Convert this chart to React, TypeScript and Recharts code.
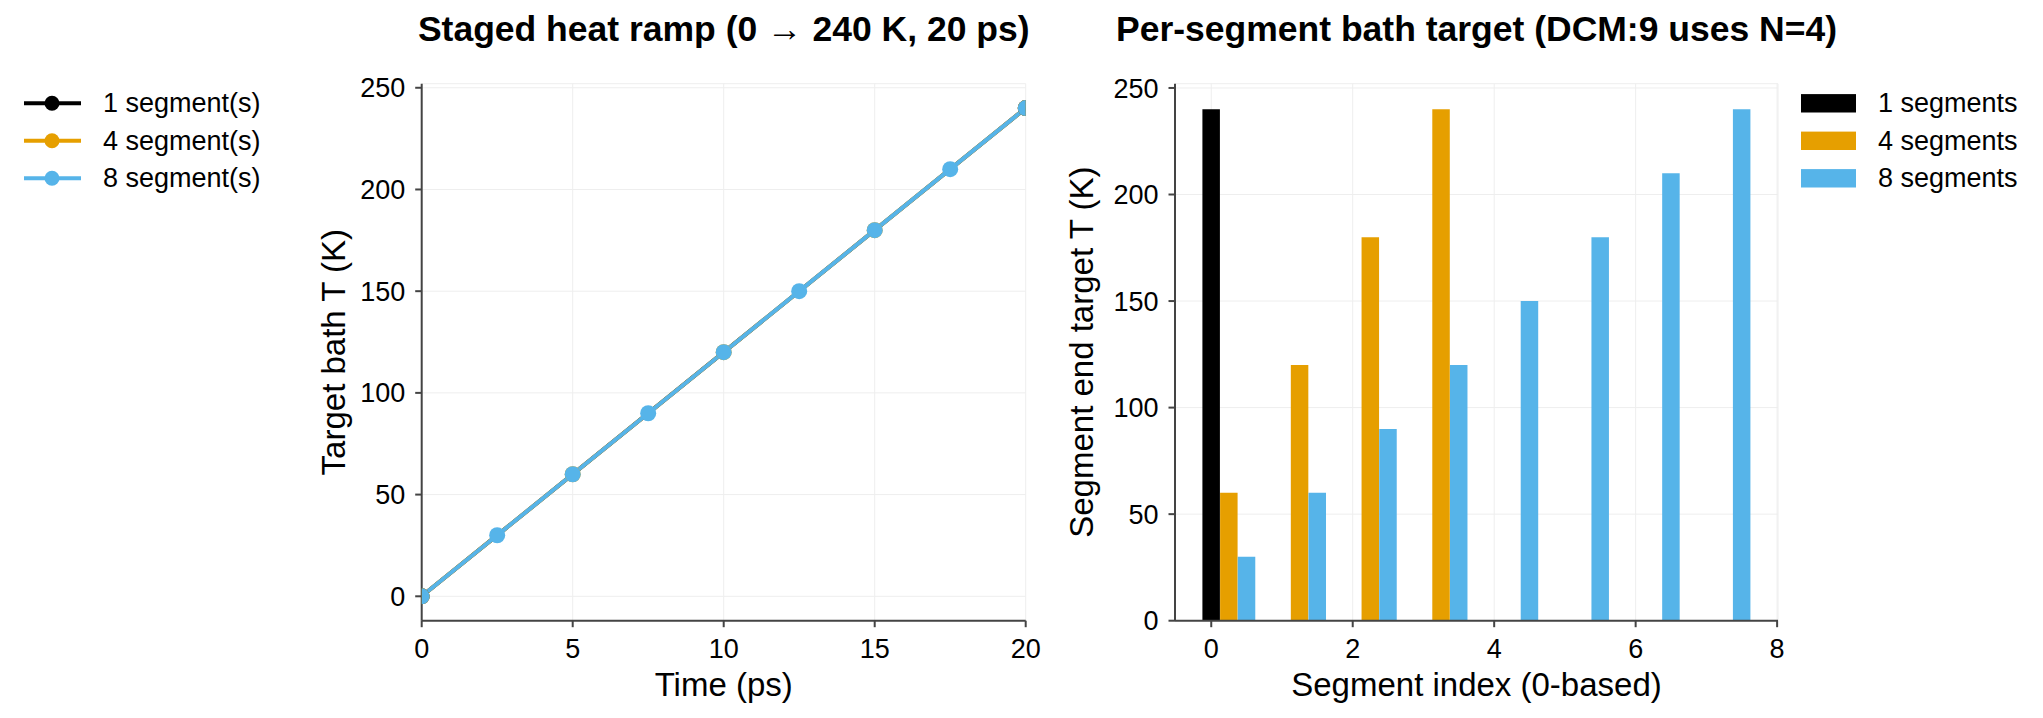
import React from 'react';
import {
  LineChart,
  Line,
  BarChart,
  Bar,
  XAxis,
  YAxis,
  CartesianGrid,
  Legend,
  Label
} from 'recharts';

// ramp traces: time (ps) and target bath T (K)
const rampTimes1 = [0, 20];
const rampTemps1 = [0, 240];
const rampTimes4 = [0, 5, 10, 15, 20];
const rampTemps4 = [0, 60, 120, 180, 240];
const rampTimes8 = [0, 2.5, 5, 7.5, 10, 12.5, 15, 17.5, 20];
const rampTemps8 = [0, 30, 60, 90, 120, 150, 180, 210, 240];

// end target of each segment (K)
const segEnd1 = [240];
const segEnd4 = [60, 120, 180, 240];
const segEnd8 = [30, 60, 90, 120, 150, 180, 210, 240];

const lineNames = ['1 segment(s)', '4 segment(s)', '8 segment(s)'];
const barNames = ['1 segments', '4 segments', '8 segments'];
const COLORS = ['#000000', '#E69F00', '#56B4E9'];

const timeTicks = [0, 5, 10, 15, 20];
const tempTicks = [0, 50, 100, 150, 200, 250];
const segTicks = [0, 2, 4, 6, 8];

const FONT = '"Liberation Sans", Arial, Helvetica, sans-serif';
const AXIS = '#444444';
const GRID = '#eeeeee';

const W = 2043;
const H = 718;

const toPts = (ts: number[], vs: number[]) => ts.map((t, i) => ({ t, T: vs[i] }));
const rampSeries = [toPts(rampTimes1, rampTemps1), toPts(rampTimes4, rampTemps4), toPts(rampTimes8, rampTemps8)];

// grouped bars: each run shifted by one bar width inside the segment slot
const BAR_STEP = 0.25;
const barKeys = ['n1', 'n4', 'n8'];
const barRows = [segEnd1, segEnd4, segEnd8]
  .flatMap((vals, k) => vals.map((v, i) => ({ seg: i + k * BAR_STEP, [barKeys[k]]: v })))
  .sort((a, b) => a.seg - b.seg);

const tickStyle = { fill: '#000', fontSize: 27, fontFamily: FONT };
const labelProps = { fill: '#000', fontSize: 33, fontFamily: FONT };

const LineKey = ({ payload }: any) => (
  <svg width={260} height={120} style={{ display: 'block' }}>
    {(payload ?? []).map((p: any, i: number) => {
      const cy = 23.3 + i * 37.5;
      return (
        <g key={p.value}>
          <line x1={24} x2={81} y1={cy} y2={cy} stroke={p.color} strokeWidth={4} />
          <circle cx={52} cy={cy} r={7.5} fill={p.color} />
          <text x={103} y={cy} dominantBaseline="central" fontSize={27} fontFamily={FONT} fill="#000">
            {p.value}
          </text>
        </g>
      );
    })}
  </svg>
);

const BarKey = ({ payload }: any) => (
  <svg width={263} height={120} style={{ display: 'block' }}>
    {(payload ?? []).map((p: any, i: number) => {
      const cy = 23.3 + i * 37.5;
      return (
        <g key={p.value}>
          <rect x={21} y={cy - 9.2} width={55} height={18.4} fill={p.color} />
          <text x={98} y={cy} dominantBaseline="central" fontSize={27} fontFamily={FONT} fill="#000">
            {p.value}
          </text>
        </g>
      );
    })}
  </svg>
);

const App: React.FC = () => {
  return (
    <div style={{ position: 'absolute', left: 0, top: 0, width: W, height: H, background: '#fff' }}>
      {/* left: staged ramp */}
      <div style={{ position: 'absolute', left: 0, top: 0 }}>
        <LineChart width={W} height={H} margin={{ top: 83.7, right: 1017.3, bottom: 45.3, left: 244.9 }}>
          <CartesianGrid stroke={GRID} strokeWidth={1} />
          <XAxis
            dataKey="t"
            type="number"
            domain={[0, 20]}
            ticks={timeTicks}
            interval={0}
            allowDataOverflow
            height={52}
            tick={tickStyle}
            tickSize={6.5}
            tickMargin={12}
            axisLine={{ stroke: AXIS, strokeWidth: 2 }}
            tickLine={{ stroke: AXIS, strokeWidth: 2 }}
          >
            <Label value="Time (ps)" position="bottom" offset={0} {...labelProps} />
          </XAxis>
          <YAxis
            type="number"
            domain={[-12, 252]}
            ticks={tempTicks}
            interval={0}
            width={176.8}
            tick={tickStyle}
            tickSize={6.5}
            tickMargin={10}
            axisLine={{ stroke: AXIS, strokeWidth: 2 }}
            tickLine={{ stroke: AXIS, strokeWidth: 2 }}
          >
            <Label value="Target bath T (K)" position="center" angle={-90} {...labelProps} />
          </YAxis>
          {rampSeries.map((pts, k) => (
            <Line
              key={lineNames[k]}
              data={pts}
              dataKey="T"
              name={lineNames[k]}
              stroke={COLORS[k]}
              strokeWidth={4}
              dot={{ r: 8, fill: COLORS[k], stroke: COLORS[k], strokeWidth: 0 }}
              activeDot={false}
              isAnimationActive={false}
            />
          ))}
          <Legend
            layout="vertical"
            align="center"
            verticalAlign="middle"
            wrapperStyle={{ left: 0, top: 80, width: 260, height: 120 }}
            content={<LineKey />}
          />
        </LineChart>
      </div>

      {/* right: per-segment targets */}
      <div style={{ position: 'absolute', left: 0, top: 0 }}>
        <BarChart
          width={W}
          height={H}
          data={barRows}
          margin={{ top: 83.7, right: 265, bottom: 45.3, left: 987 }}
        >
          <CartesianGrid stroke={GRID} strokeWidth={1} />
          <XAxis
            dataKey="seg"
            type="number"
            domain={[-0.5125, 8.0125]}
            ticks={segTicks}
            interval={0}
            height={52}
            tick={tickStyle}
            tickSize={6.5}
            tickMargin={12}
            axisLine={{ stroke: AXIS, strokeWidth: 2 }}
            tickLine={{ stroke: AXIS, strokeWidth: 2 }}
          >
            <Label value="Segment index (0-based)" position="bottom" offset={0} {...labelProps} />
          </XAxis>
          <YAxis
            type="number"
            domain={[0, 252]}
            ticks={tempTicks}
            interval={0}
            width={188}
            tick={tickStyle}
            tickSize={6.5}
            tickMargin={10}
            axisLine={{ stroke: AXIS, strokeWidth: 2 }}
            tickLine={{ stroke: AXIS, strokeWidth: 2 }}
          >
            <Label value="Segment end target T (K)" position="center" angle={-90} {...labelProps} />
          </YAxis>
          {barKeys.map((key, k) => (
            <Bar
              key={key}
              dataKey={key}
              name={barNames[k]}
              stackId="seg"
              fill={COLORS[k]}
              barSize={17.5}
              isAnimationActive={false}
            />
          ))}
          <Legend
            layout="vertical"
            align="center"
            verticalAlign="middle"
            wrapperStyle={{ left: 1780, top: 80, width: 263, height: 120 }}
            content={<BarKey />}
          />
        </BarChart>
      </div>

      {/* panel titles */}
      <svg width={W} height={70} style={{ position: 'absolute', left: 0, top: 0 }}>
        <text x={723.7} y={41} textAnchor="middle" fontSize={35.5} fontWeight="bold" fontFamily={FONT} fill="#000">
          Staged heat ramp (0 → 240 K, 20 ps)
        </text>
        <text x={1476.5} y={41} textAnchor="middle" fontSize={35.5} fontWeight="bold" fontFamily={FONT} fill="#000">
          Per-segment bath target (DCM:9 uses N=4)
        </text>
      </svg>
    </div>
  );
};

export default App;
